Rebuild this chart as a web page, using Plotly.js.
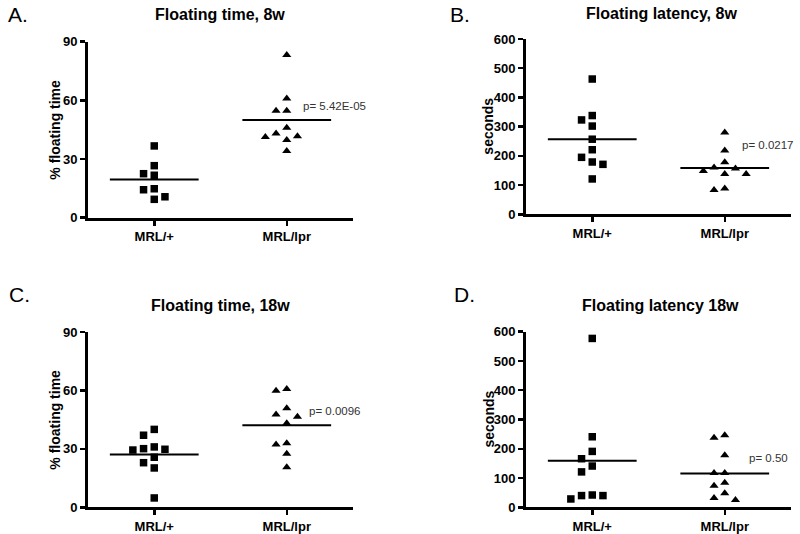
<!DOCTYPE html>
<html>
<head>
<meta charset="utf-8">
<script src="https://cdn.plot.ly/plotly-3.0.1.min.js"></script>
<style>html,body{margin:0;padding:0;background:#fff;}#chart{width:800px;height:534px;}</style>
</head>
<body>
<div id="chart"></div>
<script>
// ---- data ----
const categories = ['MRL/+', 'MRL/lpr'];

const panelLetters = ['A.', 'B.', 'C.', 'D.'];
const panelTitles = ['Floating time, 8w', 'Floating latency, 8w', 'Floating time, 18w', 'Floating latency 18w'];
const yTitles = ['% floating time', 'seconds', '% floating time', 'seconds'];
const pValues = ['p= 5.42E-05', 'p= 0.0217', 'p= 0.0096', 'p= 0.50'];

const pctTicks = [0, 30, 60, 90];
const secTicks = [0, 100, 200, 300, 400, 500, 600];

// A: floating time 8w (%)
const aPlus = [36.7, 26.6, 22.5, 21.7, 14.8, 14.3, 10.7, 9.4];
const aLpr = [83.2, 61.0, 54.7, 54.7, 46.0, 43.1, 41.6, 41.3, 39.7, 34.1];
// B: floating latency 8w (s)
const bPlus = [463, 338, 323, 302, 257, 221, 195, 179, 171, 121];
const bLpr = [280, 218, 178, 160, 157, 148, 138, 138, 88, 83];
// C: floating time 18w (%)
const cPlus = [40.0, 37.0, 31.0, 30.1, 29.8, 29.4, 25.7, 22.9, 20.2, 4.8];
const cLpr = [60.7, 59.9, 50.8, 47.6, 46.5, 43.1, 32.9, 32.3, 27.5, 20.5];
// D: floating latency 18w (s)
const dPlus = [577, 241, 191, 166, 141, 121, 42, 40, 40, 28.5];
const dLpr = [246, 238, 178, 117, 117, 84, 74, 48, 32, 25];

// ---- layout helpers ----
const W = 800, H = 534;
const FONT = 'Liberation Sans, Arial, Helvetica, sans-serif';
const panels = [
  {plus: aPlus, lpr: aLpr, ticks: pctTicks, range: [0, 90], x0: 88, x1: 353, yTop: 41.7, yBot: 217.7},
  {plus: bPlus, lpr: bLpr, ticks: secTicks, range: [0, 600], x0: 526, x1: 791, yTop: 39, yBot: 214.3},
  {plus: cPlus, lpr: cLpr, ticks: pctTicks, range: [0, 90], x0: 88, x1: 353, yTop: 332, yBot: 507.3},
  {plus: dPlus, lpr: dLpr, ticks: secTicks, range: [0, 600], x0: 526, x1: 791, yTop: 331.7, yBot: 507.3}
];
const titlePos = [[220, 15], [661, 14], [220, 305], [660, 305]];
const letterPos = [[6, 15], [448, 15], [7, 294], [452, 294]];
const yTitlePos = [55, 488, 55, 488];
const pPos = [[301, 106], [740, 145], [307, 411], [747, 458]];

function mean(a) { return a.reduce((s, v) => s + v, 0) / a.length; }

// simple beeswarm: spread points whose markers would overlap vertically
function swarm(vals, center, pxPerUnit, slot) {
  const placed = [];
  const order = [0, -1, 1, -2, 2, -3, 3];
  return vals.map(v => {
    const py = v * pxPerUnit;
    for (const k of order) {
      if (!placed.some(p => p.k === k && Math.abs(p.py - py) < 9.5)) {
        placed.push({k, py});
        return center + k * slot;
      }
    }
    return center;
  });
}

const traces = [];
const layout = {
  width: W, height: H,
  margin: {l: 0, r: 0, t: 0, b: 0},
  paper_bgcolor: '#fff', plot_bgcolor: '#fff',
  showlegend: false,
  annotations: []
};

panels.forEach((p, i) => {
  const n = i === 0 ? '' : String(i + 1);
  const xa = 'x' + n, ya = 'y' + n;
  const pxPerUnit = (p.yBot - p.yTop) / (p.range[1] - p.range[0]);
  const slot = 10.7 / ((p.x1 - p.x0) / 2);

  layout['xaxis' + n] = {
    domain: [p.x0 / W, p.x1 / W], anchor: ya,
    range: [-0.5, 1.5], tickvals: [0, 1], ticktext: categories,
    showline: true, linewidth: 3, linecolor: '#000',
    ticks: 'outside', ticklen: 5, tickwidth: 2.5, tickcolor: '#000',
    showgrid: false, zeroline: false, fixedrange: true,
    tickfont: {family: FONT, size: 13, color: '#000', weight: 'bold'}
  };
  layout['yaxis' + n] = {
    domain: [1 - p.yBot / H, 1 - p.yTop / H], anchor: xa,
    range: p.range, tickvals: p.ticks,
    showline: true, linewidth: 3, linecolor: '#000',
    ticks: 'outside', ticklen: 5, tickwidth: 2.5, tickcolor: '#000',
    showgrid: false, zeroline: false, fixedrange: true,
    tickfont: {family: FONT, size: 13, color: '#000', weight: 'bold'}
  };

  traces.push({
    type: 'scatter', mode: 'markers', xaxis: xa, yaxis: ya,
    x: swarm(p.plus, 0, pxPerUnit, slot), y: p.plus, cliponaxis: false,
    marker: {symbol: 'square', size: 7.5, color: '#000'}
  });
  traces.push({
    type: 'scatter', mode: 'markers', xaxis: xa, yaxis: ya,
    x: swarm(p.lpr, 1, pxPerUnit, slot), y: p.lpr, cliponaxis: false,
    marker: {symbol: 'triangle-up', size: 8, color: '#000'}
  });
  [p.plus, p.lpr].forEach((vals, g) => {
    const m = mean(vals);
    traces.push({
      type: 'scatter', mode: 'lines', xaxis: xa, yaxis: ya,
      x: [g - 0.335, g + 0.335], y: [m, m],
      line: {color: '#000', width: 2}
    });
  });

  layout.annotations.push({
    xref: 'paper', yref: 'paper', x: titlePos[i][0] / W, y: 1 - titlePos[i][1] / H,
    xanchor: 'center', yanchor: 'middle', showarrow: false, text: panelTitles[i],
    font: {family: FONT, size: 16, color: '#000', weight: 'bold'}
  });
  layout.annotations.push({
    xref: 'paper', yref: 'paper', x: letterPos[i][0] / W, y: 1 - letterPos[i][1] / H,
    xanchor: 'left', yanchor: 'middle', showarrow: false, text: panelLetters[i],
    font: {family: FONT, size: 21, color: '#000'}
  });
  layout.annotations.push({
    xref: 'paper', yref: 'paper', x: yTitlePos[i] / W, y: 1 - ((p.yTop + p.yBot) / 2) / H,
    xanchor: 'center', yanchor: 'middle', showarrow: false, text: yTitles[i], textangle: -90,
    font: {family: FONT, size: 14, color: '#000', weight: 'bold'}
  });
  layout.annotations.push({
    xref: 'paper', yref: 'paper', x: pPos[i][0] / W, y: 1 - pPos[i][1] / H,
    xanchor: 'left', yanchor: 'middle', showarrow: false, text: pValues[i],
    font: {family: FONT, size: 11.5, color: '#333'}
  });
});

Plotly.newPlot('chart', traces, layout, {staticPlot: true, displayModeBar: false});
</script>
</body>
</html>
